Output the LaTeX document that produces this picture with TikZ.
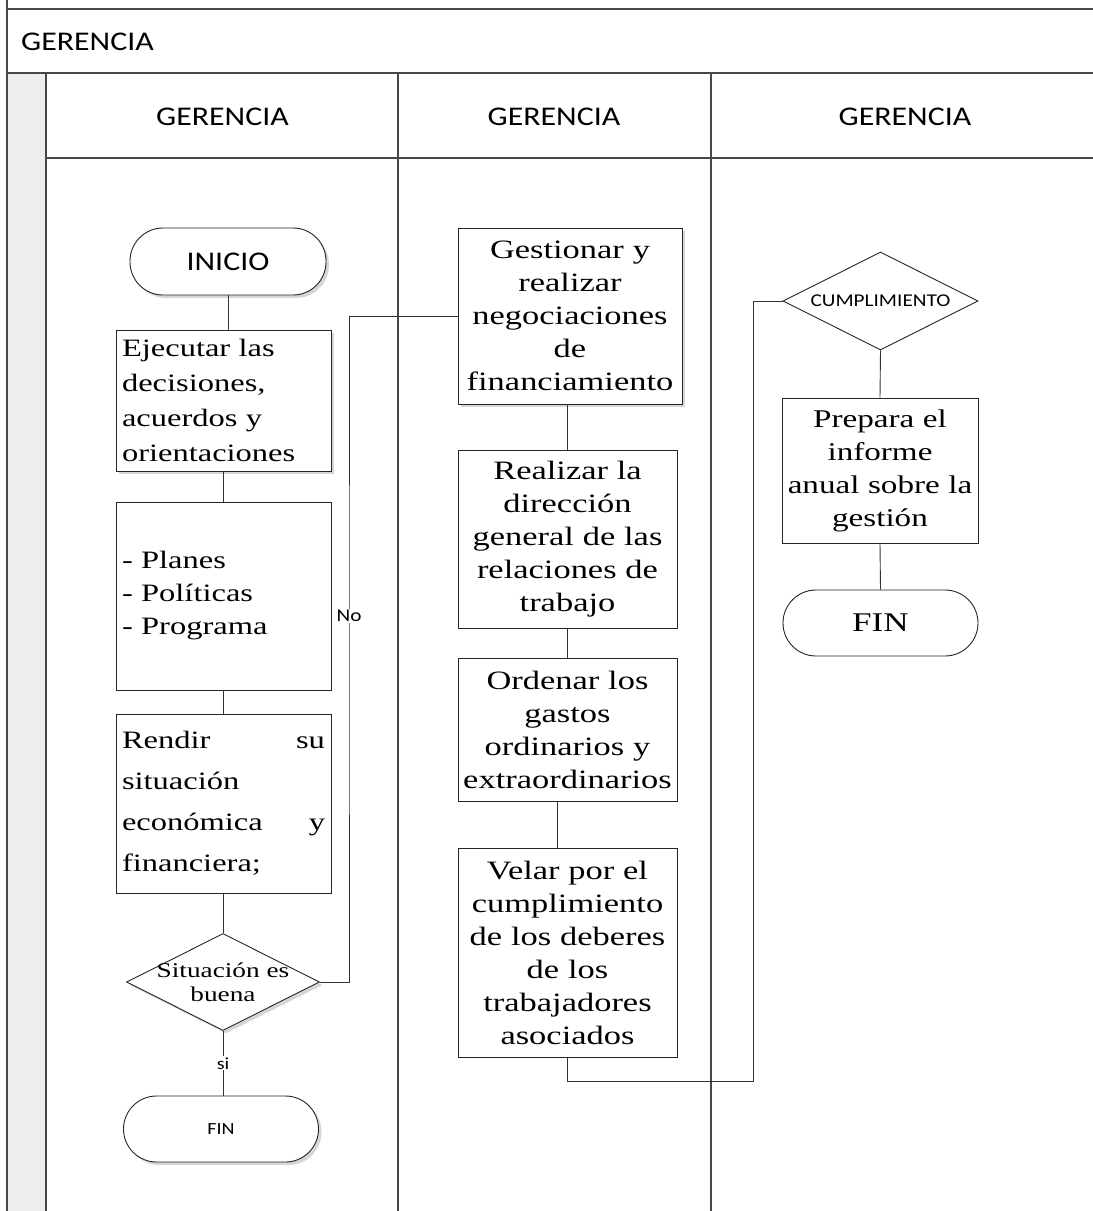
\documentclass[tikz,border=0pt]{standalone}
\usepackage{fontspec}
\setmainfont[FakeStretch=1.3]{Liberation Serif}
\newfontfamily\lanesans[FakeStretch=1.18]{Carlito}
\usetikzlibrary{shapes.geometric,shadows}

\begin{document}
\begin{tikzpicture}[x=1pt,y=-1pt,
  lane/.style={draw=black!72,line width=1.8pt},
  hdr/.style={font=\lanesans\fontsize{27}{30}\selectfont,inner sep=0pt},
  link/.style={draw=black!80,line width=0.9pt},
  softshadow/.style={drop shadow={shadow xshift=3pt,shadow yshift=-3pt,fill=black!16,opacity=1}},
  procbox/.style={draw=black!85,line width=0.9pt,fill=white,rectangle,inner sep=0pt},
  leftbox/.style={procbox,minimum width=215pt,text width=203pt,align=left},
  midbox/.style={procbox,minimum width=219pt,text width=219pt,align=center,
                 font=\fontsize{26.5}{33}\selectfont},
  terminal/.style={draw=black!85,line width=0.9pt,fill=white,rectangle,
                   rounded corners=33pt,minimum width=196pt,minimum height=67pt,inner sep=0pt},
  decision/.style={draw=black!85,line width=0.9pt,fill=white,diamond,inner sep=0pt},
  tag/.style={fill=white,inner sep=1pt,font=\lanesans\fontsize{18}{20}\selectfont}
]
\useasboundingbox (0,0) rectangle (1093,1211);

% swimlane frame
\fill[black!7] (8,74) rectangle (46,1211);
\draw[lane] (7,0) -- (7,1211);
\draw[lane] (7,9) -- (1093,9);
\draw[lane] (7,73) -- (1093,73);
\draw[lane] (46,73) -- (46,1211);
\draw[lane] (46,158) -- (1093,158);
\draw[lane] (398,73) -- (398,1211);
\draw[lane] (711,73) -- (711,1211);

\node[hdr,anchor=west] (pool) at (21,42) {GERENCIA};
\node[hdr] (laneA) at (222.5,117) {GERENCIA};
\node[hdr] (laneB) at (554,117) {GERENCIA};
\node[hdr] (laneC) at (905,117) {GERENCIA};

% first lane
\node[terminal,softshadow,font=\lanesans\fontsize{27}{30}\selectfont] (ini) at (228,261.5) {INICIO};
\node[leftbox,softshadow,minimum height=141pt,font=\fontsize{25}{35}\selectfont] (ejec) at (223.5,400.5)
  {Ejecutar las\\decisiones,\\acuerdos y\\orientaciones};
\node[leftbox,minimum height=188pt,font=\fontsize{25}{33}\selectfont] (plan) at (223.5,596)
  {- Planes\\- Políticas\\- Programa};
\node[leftbox,minimum height=179pt,font=\fontsize{25}{41}\selectfont] (rend) at (223.5,803.5)
  {Rendir\hfill su\\situación\\económica\hfill y\\financiera;};
\node[decision,softshadow,minimum width=193pt,minimum height=97pt,
      label={[align=center,font=\fontsize{21}{24}\selectfont]center:Situación es\\buena}] (dec) at (223,982) {};
\node[terminal,softshadow,minimum width=195pt,minimum height=66pt,
      font=\lanesans\fontsize{17}{20}\selectfont] (finA) at (221,1129) {FIN};

% second lane
\node[midbox,softshadow,minimum width=224pt,minimum height=176pt] (gest) at (570,316)
  {Gestionar y\\realizar\\negociaciones\\de\\financiamiento};
\node[midbox,minimum height=178pt] (real) at (567.5,539)
  {Realizar la\\dirección\\general de las\\relaciones de\\trabajo};
\node[midbox,minimum height=143pt] (orde) at (567.5,729.5)
  {Ordenar los\\gastos\\ordinarios y\\extraordinarios};
\node[midbox,minimum height=209pt] (vela) at (567.5,952.5)
  {Velar por el\\cumplimiento\\de los deberes\\de los\\trabajadores\\asociados};

% third lane
\node[decision,minimum width=195pt,minimum height=98pt,
      label={[font=\lanesans\fontsize{18}{20}\selectfont]center:CUMPLIMIENTO}] (cump) at (880.5,301) {};
\node[procbox,minimum width=196pt,minimum height=145pt,text width=196pt,align=center,
      font=\fontsize{25.5}{33}\selectfont] (prep) at (880,470.5)
  {Prepara el\\informe\\anual sobre la\\gestión};
\node[terminal,minimum width=195pt,minimum height=66pt,font=\fontsize{27}{30}\selectfont] (finB) at (880.5,623) {FIN};

% connectors
\coordinate (noX) at (349,650);
\coordinate (velturn) at (753,1081);

\draw[link] (ini.south) -- (ini.south |- ejec.north);
\draw[link] (ejec.south) -- (plan.north);
\draw[link] (plan.south) -- (rend.north);
\draw[link] (rend.south) -- (rend.south |- dec.north);
\draw[link] (dec.south) -- (dec.south |- finA.north)
  node[tag,pos=0.5,font=\lanesans\fontsize{17}{20}\selectfont] {si};
\draw[link] (dec.east) -| (noX) |- (gest.west);
\node[tag] (nolabel) at (349,616) {No};

\draw[link] (gest.south -| real.south) -- (real.north);
\draw[link] (real.south) -- (orde.north);
\draw[link] ([xshift=-10pt]orde.south) -- ([xshift=-10pt]orde.south |- vela.north);
\draw[link] (vela.south) |- (velturn) |- (cump.west);

\draw[link] (cump.south) -- (prep.north);
\draw[link] (prep.south) -- (finB.north);
\end{tikzpicture}
\end{document}
